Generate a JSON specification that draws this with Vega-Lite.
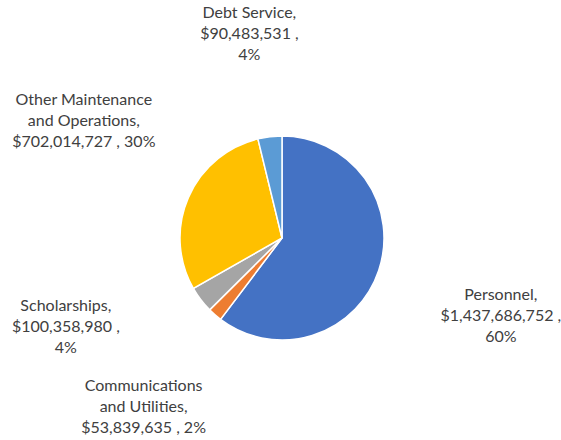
{
  "$schema": "https://vega.github.io/schema/vega-lite/v6.json",
  "autosize": {"type": "none"},
  "width": 558,
  "height": 404,
  "padding": {"left": 3, "top": 36, "right": 0, "bottom": 0},
  "background": "white",
  "config": {"view": {"stroke": null}},
  "data": {
    "values": [
      {"rank": 1, "category": "Personnel", "value": 1437686752, "label": "Personnel,\n$1,437,686,752 ,\n60%"},
      {"rank": 2, "category": "Communications and Utilities", "value": 53839635, "label": "Communications\nand Utilities,\n$53,839,635 , 2%"},
      {"rank": 3, "category": "Scholarships", "value": 100358980, "label": "Scholarships,\n$100,358,980 ,\n4%"},
      {"rank": 4, "category": "Other Maintenance and Operations", "value": 702014727, "label": "Other Maintenance\nand Operations,\n$702,014,727 , 30%"},
      {"rank": 5, "category": "Debt Service", "value": 90483531, "label": "Debt Service,\n$90,483,531 ,\n4%"}
    ]
  },
  "encoding": {
    "theta": {"field": "value", "type": "quantitative", "stack": true},
    "order": {"field": "rank", "type": "ordinal", "sort": "ascending"}
  },
  "layer": [
    {
      "mark": {"type": "arc", "outerRadius": 102, "stroke": "white", "strokeWidth": 1.5},
      "encoding": {
        "color": {
          "field": "category",
          "type": "nominal",
          "scale": {
            "domain": ["Personnel", "Communications and Utilities", "Scholarships", "Other Maintenance and Operations", "Debt Service"],
            "range": ["#4472C4", "#ED7D31", "#A5A5A5", "#FFC000", "#5B9BD5"]
          },
          "legend": null
        }
      }
    },
    {
      "mark": {"type": "text", "radius": 235, "dx": -4, "dy": -18, "font": "Lato", "fontSize": 16, "lineHeight": 21, "lineBreak": "\n", "align": "center", "baseline": "middle", "color": "#404040"},
      "encoding": {"text": {"condition": {"test": "datum.category === 'Personnel'", "field": "label"}, "value": ""}}
    },
    {
      "mark": {"type": "text", "radius": 218, "dx": 5, "dy": -16, "font": "Lato", "fontSize": 16, "lineHeight": 21, "lineBreak": "\n", "align": "center", "baseline": "middle", "color": "#404040"},
      "encoding": {"text": {"condition": {"test": "datum.category === 'Communications and Utilities'", "field": "label"}, "value": ""}}
    },
    {
      "mark": {"type": "text", "radius": 230, "dx": -33, "dy": -71, "font": "Lato", "fontSize": 16, "lineHeight": 21, "lineBreak": "\n", "align": "center", "baseline": "middle", "color": "#404040"},
      "encoding": {"text": {"condition": {"test": "datum.category === 'Scholarships'", "field": "label"}, "value": ""}}
    },
    {
      "mark": {"type": "text", "radius": 230, "dx": 13, "dy": -47, "font": "Lato", "fontSize": 16, "lineHeight": 21, "lineBreak": "\n", "align": "center", "baseline": "middle", "color": "#404040"},
      "encoding": {"text": {"condition": {"test": "datum.category === 'Other Maintenance and Operations'", "field": "label"}, "value": ""}}
    },
    {
      "mark": {"type": "text", "radius": 207, "dx": -8, "dy": -19, "font": "Lato", "fontSize": 16, "lineHeight": 21, "lineBreak": "\n", "align": "center", "baseline": "middle", "color": "#404040"},
      "encoding": {"text": {"condition": {"test": "datum.category === 'Debt Service'", "field": "label"}, "value": ""}}
    }
  ]
}
